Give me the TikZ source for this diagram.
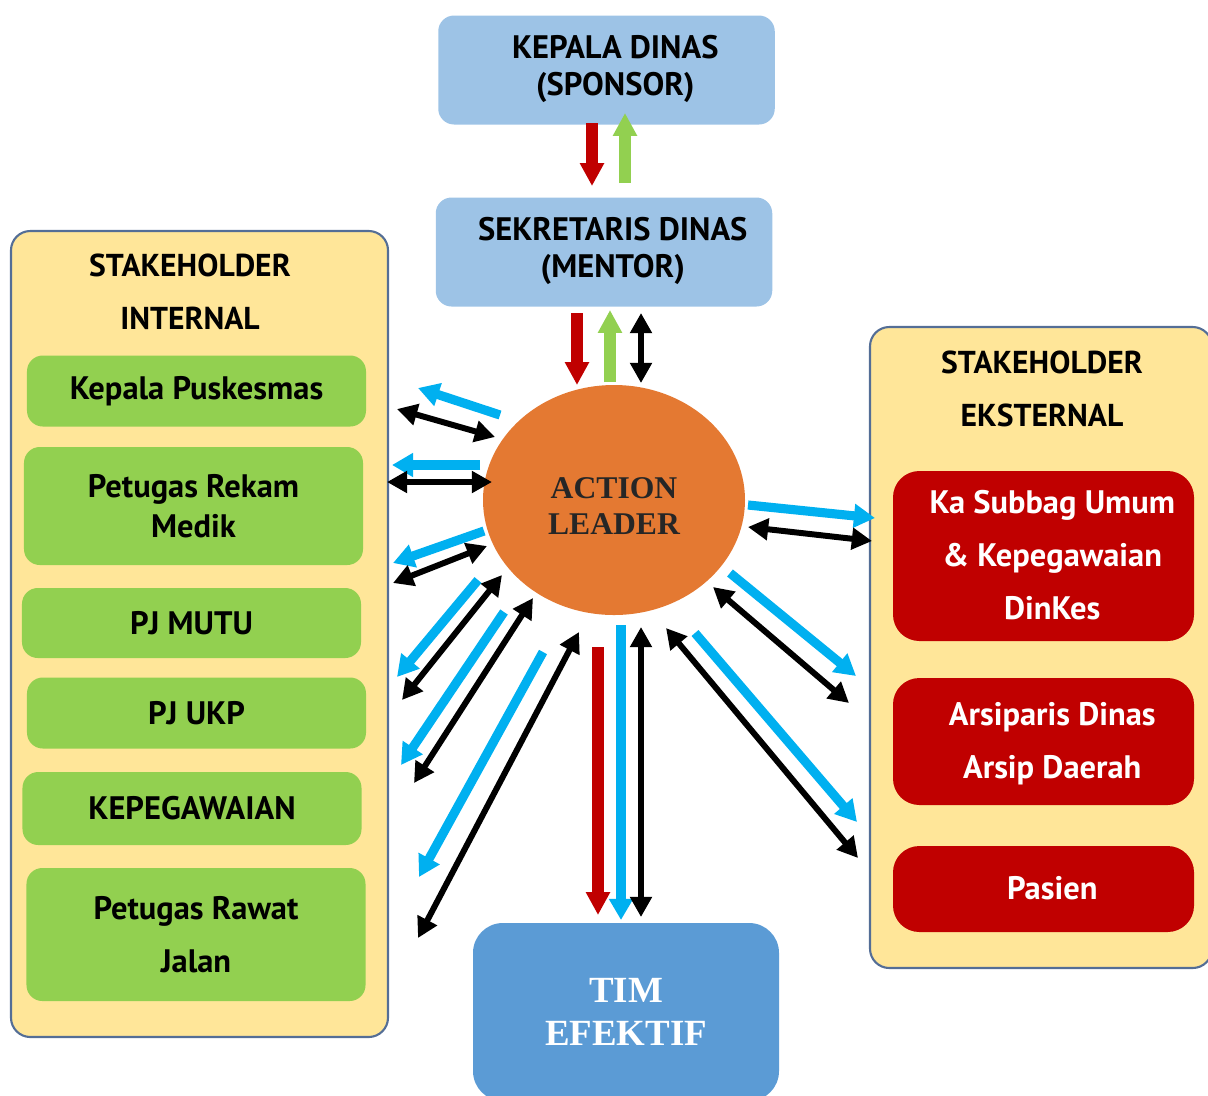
\documentclass[tikz,border=0pt]{standalone}
\usepackage{fontspec}
\setmainfont{PT Sans}
\newfontfamily\timesfont{Liberation Serif}
\usetikzlibrary{arrows.meta,shapes.geometric}
\definecolor{paleblue}{RGB}{157,195,230}
\definecolor{sandy}{RGB}{255,230,153}
\definecolor{panelline}{RGB}{84,110,150}
\definecolor{leafgreen}{RGB}{146,208,80}
\definecolor{darkred}{RGB}{192,0,0}
\definecolor{skyblue}{RGB}{0,176,240}
\definecolor{orangefill}{RGB}{228,121,50}
\definecolor{midblue}{RGB}{91,155,213}
% text block set a little right of the box centre
\newcommand\offtext[1]{\hspace*{10pt}\begin{tabular}{@{}c@{}}#1\end{tabular}}
\tikzset{
  box/.style={rectangle, rounded corners=9pt, align=center, inner sep=2pt, font=\bfseries\fontsize{18.5}{21}\selectfont},
  head/.style={box, fill=paleblue, minimum width=67.3mm, minimum height=21.8mm},
  panel/.style={rectangle, rounded corners=11pt, draw=panelline, line width=1.2pt, fill=sandy},
  ttl/.style={align=center, font=\bfseries\fontsize{18}{30}\selectfont},
  inner/.style={box, fill=leafgreen, minimum width=67.8mm},
  outer/.style={box, fill=darkred, text=white, rounded corners=15pt, minimum width=60.2mm, font=\bfseries\fontsize{18.5}{30}\selectfont},
  leader/.style={ellipse, fill=orangefill, minimum width=52.4mm, minimum height=46mm},
  leadtxt/.style={align=center, text=black!85, font=\timesfont\bfseries\fontsize{18}{20.5}\selectfont},
  team/.style={rectangle, rounded corners=17pt, fill=midblue, text=white, minimum width=61.2mm, minimum height=35.6mm, align=center, font=\timesfont\bfseries\fontsize{21}{24.5}\selectfont},
  bluarr/.style={draw=skyblue, line width=5.2pt, -{Triangle[length=12pt,width=13pt]}},
  blkarr/.style={draw=black, line width=3.4pt, {Triangle[length=11.5pt,width=12pt]}-{Triangle[length=11.5pt,width=12pt]}},
  redarr/.style={draw=darkred, line width=6.4pt, -{Triangle[length=13pt,width=13pt]}},
  grnarr/.style={draw=leafgreen, line width=6.4pt, -{Triangle[length=13pt,width=13pt]}}
}

\begin{document}
\begin{tikzpicture}[x=0.2mm, y=-0.2mm]
\useasboundingbox (0,0) rectangle (1208,1095);

% top of the chain
\node[head] (sponsor) at (606.5,70) {\offtext{KEPALA DINAS\\(SPONSOR)}};
\node[head] (mentor) at (604,252) {\offtext{SEKRETARIS DINAS\\(MENTOR)}};

% internal stakeholders
\node[panel, minimum width=75.4mm, minimum height=161.2mm] (intpanel) at (199.5,634) {};
\node[ttl] (inttitle) at (190,292) {STAKEHOLDER\\INTERNAL};
\node[inner, minimum height=14.2mm] (puskesmas) at (196.5,391) {Kepala Puskesmas};
\node[inner, minimum height=23.6mm, font=\bfseries\fontsize{18.5}{23}\selectfont] (rekam) at (193.5,506) {Petugas Rekam\\Medik};
\node[inner, minimum height=14mm] (mutu) at (191.5,623) {PJ MUTU};
\node[inner, minimum height=14.2mm] (ukp) at (196.5,713) {PJ UKP};
\node[inner, minimum height=14.6mm] (kepeg) at (192,808.5) {KEPEGAWAIAN};
\node[inner, minimum height=26.6mm, font=\bfseries\fontsize{18.5}{30}\selectfont] (rawat) at (196,934.5) {Petugas Rawat\\Jalan};

% external stakeholders
\node[panel, minimum width=68.4mm, minimum height=128.2mm] (extpanel) at (1041,647.5) {};
\node[ttl] (exttitle) at (1042,389) {STAKEHOLDER\\EKSTERNAL};
\node[outer, minimum height=34mm] (subbag) at (1043.5,556) {\offtext{Ka Subbag Umum\\\& Kepegawaian\\DinKes}};
\node[outer, minimum height=25.4mm] (arsip) at (1043.5,741.5) {\offtext{Arsiparis Dinas\\Arsip Daerah}};
\node[outer, minimum height=17.2mm] (pasien) at (1043.5,889) {\offtext{Pasien}};

% centre and team
\node[leader] (al) at (614,500) {};
\node[leadtxt] (altxt) at (614,506) {ACTION\\LEADER};
\node[team] (tim) at (626,1012) {TIM\\EFEKTIF};

% red / green flows
\foreach \n/\a/\b in {1/{592,123}/{592,186}, 2/{577,313}/{577,385}, 3/{598,647}/{598,915}}{
  \coordinate (rs\n) at (\a); \coordinate (re\n) at (\b);
  \draw[redarr] (rs\n) -- (re\n);
}
\foreach \n/\a/\b in {1/{625,183}/{625,113}, 2/{610,382}/{610,310}}{
  \coordinate (gs\n) at (\a); \coordinate (ge\n) at (\b);
  \draw[grnarr] (gs\n) -- (ge\n);
}

% blue one-way arrows
\foreach \n/\a/\b in {1/{500,415}/{418,388}, 2/{480,465}/{392,465}, 3/{484,531}/{393,563},
    4/{478,580}/{397,677}, 5/{504,612}/{401,765}, 6/{543,652}/{419,877}, 7/{621,625}/{621,920},
    8/{748,505}/{875,518}, 9/{730,573}/{856,676}, 10/{695,633}/{857,822}}{
  \coordinate (bs\n) at (\a); \coordinate (be\n) at (\b);
  \draw[bluarr] (bs\n) -- (be\n);
}

% black two-way arrows
\foreach \n/\a/\b in {1/{397,409}/{495,437}, 2/{387,482}/{492,482}, 3/{393,583}/{487,546},
    4/{502,575}/{402,700}, 5/{533,598}/{414,783}, 6/{579,632}/{418,938}, 7/{641,627}/{641,917},
    8/{748,527}/{872,541}, 9/{713,587}/{849,703}, 10/{666,628}/{858,858}, 11/{641,313}/{641,383}}{
  \coordinate (ks\n) at (\a); \coordinate (ke\n) at (\b);
  \draw[blkarr] (ks\n) -- (ke\n);
}
\end{tikzpicture}
\end{document}
